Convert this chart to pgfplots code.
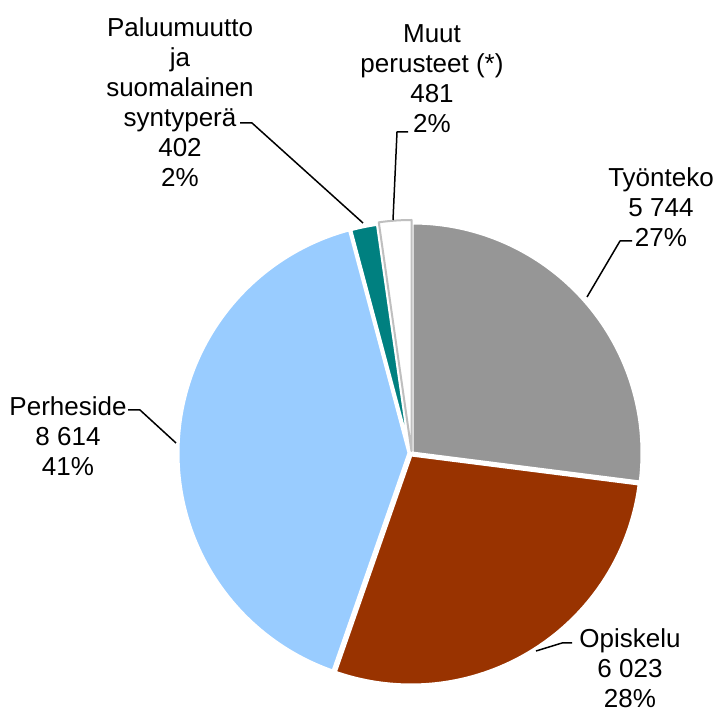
\documentclass[border=0pt]{standalone}
\usepackage{pgfplots}
\pgfplotsset{compat=1.18}
\usepackage{fontspec}
\setmainfont{Liberation Sans}
\definecolor{cTyo}{HTML}{969696}
\definecolor{cOpi}{HTML}{993300}
\definecolor{cPer}{HTML}{99CCFF}
\definecolor{cPal}{HTML}{008080}
\definecolor{cMuu}{HTML}{BFBFBF}
% values
\def\vTyo{5744}
\def\vOpi{6023}
\def\vPer{8614}
\def\vPal{402}
\def\vMuu{481}
\edef\tot{\fpeval{\vTyo+\vOpi+\vPer+\vPal+\vMuu}}
\edef\aA{90}
\edef\aB{\fpeval{round(\aA-\vTyo/\tot*360,4)}}
\edef\aC{\fpeval{round(\aB-\vOpi/\tot*360,4)}}
\edef\aD{\fpeval{round(\aC-\vPer/\tot*360,4)}}
\edef\aE{\fpeval{round(\aD-\vPal/\tot*360,4)}}
\edef\aF{\fpeval{round(\aE-\vMuu/\tot*360,4)}}
\begin{document}
\begin{tikzpicture}
\begin{axis}[scale only axis, width=721bp, height=713bp,
  xmin=0, xmax=721, ymin=0, ymax=713, hide axis, clip=false,
  every axis plot/.append style={line join=round}]
\coordinate (ll) at (axis cs:0,0);
\coordinate (ur) at (axis cs:721,713);
% wedges
\addplot[fill=cTyo, draw=white, line width=3bp, domain=\aB:\aA, samples=90, variable=\t]
  ({412+230*cos(\t)},{260+230*sin(\t)}) -- (axis cs:412,260) -- cycle;
\addplot[fill=cOpi, draw=white, line width=3bp, domain=\aC:\aB, samples=90, variable=\t]
  ({411+230*cos(\t)},{258+230*sin(\t)}) -- (axis cs:411,258) -- cycle;
\addplot[fill=cPer, draw=white, line width=3bp, domain=\aD:\aC, samples=120, variable=\t]
  ({409+231*cos(\t)},{260+231*sin(\t)}) -- (axis cs:409,260) -- cycle;
\addplot[fill=cPal, draw=white, line width=3bp, domain=\aE:\aD, samples=20, variable=\t]
  ({410+230*cos(\t)},{261+230*sin(\t)}) -- (axis cs:410,261) -- cycle;
\addplot[fill=white, draw=cMuu, line width=2bp, domain=\aF:\aE, samples=20, variable=\t]
  ({411.5+231*cos(\t)},{262+231*sin(\t)}) -- (axis cs:411.5,262) -- cycle;
% leader lines
\addplot[black, line width=1.5bp] coordinates {(632,472) (620,472) (587,416)};
\addplot[black, line width=1.5bp] coordinates {(572,70) (562,70) (536,62)};
\addplot[black, line width=1.5bp] coordinates {(128,303) (140,303) (176,270)};
\addplot[black, line width=1.5bp] coordinates {(240,590) (252,590) (363,490)};
\addplot[black, line width=1.5bp] coordinates {(408,581) (397,581) (393,493)};
% labels
\tikzset{lab/.style={align=center, inner sep=0pt, font=\fontsize{26bp}{30bp}\selectfont}}
\node[lab] at (axis cs:661,506) {Työnteko\\5 744\\27\%};
\node[lab] at (axis cs:630,45) {Opiskelu\\6 023\\28\%};
\node[lab] at (axis cs:68,277) {Perheside\\8 614\\41\%};
\node[lab] at (axis cs:180,611) {Paluumuutto\\ja\\suomalainen\\syntyperä\\402\\2\%};
\node[lab] at (axis cs:432,634) {Muut\\perusteet (*)\\481\\2\%};
\end{axis}
\pgfresetboundingbox
\path[use as bounding box] (ll) rectangle (ur);
\end{tikzpicture}
\end{document}
